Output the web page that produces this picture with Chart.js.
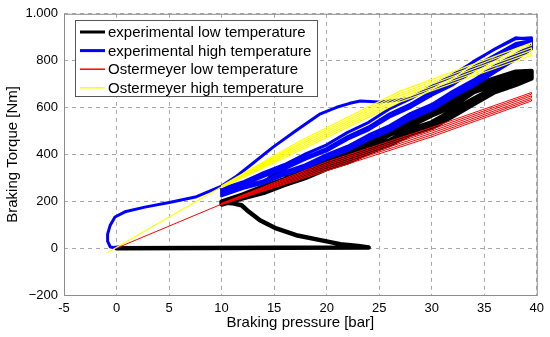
<!DOCTYPE html>
<html>
<head>
<meta charset="utf-8">
<script src="https://cdn.jsdelivr.net/npm/chart.js@4.4.1/dist/chart.umd.min.js"></script>
<style>
  html, body { margin: 0; padding: 0; background: #fff; }
  #wrap { width: 550px; height: 337px; }
</style>
</head>
<body>
<div id="wrap"><canvas id="grafico" width="550" height="337"></canvas></div>
<script>
const seriesLabels = [
  'experimental low temperature',
  'experimental high temperature',
  'Ostermeyer low temperature',
  'Ostermeyer high temperature'
];
const seriesColors = ['#000000', '#0000ff', '#ff0000', '#ffff00'];
const lineWidths = [4.5, 3, 1, 1.2];
const legendWidths = [3, 3, 1.5, 1.5];

const pressureTicks = [-5, 0, 5, 10, 15, 20, 25, 30, 35, 40];
const torqueTicks = [-200, 0, 200, 400, 600, 800, 1000];
const torqueTickLabels = ['\u2212200', '0', '200', '400', '600', '800', '1.000'];

// pressure grid used by the measured load cycles
const cyclePressure = [10, 12, 14, 16, 18, 20, 22, 24, 26, 28, 30, 32, 34, 36, 38, 39.5];

// experimental low temperature (black)
const expLowStartP = [0, 24, 23, 21.3, 19.4, 17.1, 15.2, 13.65, 12.6, 11.9, 11, 10.3];
const expLowStartT = [0, 3, 9, 17, 34, 55, 84, 119, 155, 183, 192, 195];
const expLowCycles = [
  [186, 212, 236, 270, 300, 338, 366, 407, 441, 485, 513, 563, 615, 666, 697, 724],
  [198, 228, 264, 294, 336, 373, 419, 457, 510, 551, 598, 637, 696, 724, 753, 756],
  [190, 218, 243, 279, 310, 350, 380, 424, 460, 507, 537, 587, 638, 685, 713, 735],
  [195, 223, 258, 287, 328, 363, 407, 443, 494, 533, 578, 617, 677, 708, 740, 747],
  [187, 214, 238, 274, 303, 342, 371, 413, 447, 492, 521, 571, 623, 672, 702, 728],
  [193, 220, 254, 283, 323, 357, 400, 435, 484, 522, 566, 605, 666, 698, 732, 742]
];
const expLowTailP = [12, 14, 14.6, 15.3, 15.9, 16.5];
const expLowTailT = [225, 262, 300, 328, 320, 300];

// experimental high temperature (blue)
const expHighStartP = [0.3, -0.3, -0.6, -0.85, -0.85, -0.6, -0.15, 0.8, 2.7, 5.25, 7.5, 10, 11.3, 12.5,
  14.9, 17.1, 19.4, 20.95, 22.2, 23.2, 25, 26.5, 28, 30, 32, 34, 36, 38, 39.5];
const expHighStartT = [6, 3, 5, 30, 60, 98, 133, 155, 175, 197, 218, 265, 303, 345,
  431, 502, 573, 601, 618, 628, 624, 630, 640, 688, 740, 795, 850, 898, 890];
const expHighCycles = [
  [253, 282, 322, 357, 402, 441, 494, 537, 595, 638, 691, 735, 797, 849, 894, 898],
  [223, 254, 278, 313, 342, 383, 417, 463, 501, 552, 590, 645, 693, 751, 806, 850],
  [246, 274, 312, 345, 388, 425, 476, 517, 573, 615, 667, 711, 773, 823, 873, 886],
  [231, 262, 288, 325, 356, 399, 435, 483, 523, 575, 613, 669, 718, 777, 827, 863],
  [241, 269, 306, 338, 380, 415, 465, 505, 560, 601, 653, 697, 758, 807, 860, 880],
  [226, 257, 282, 318, 348, 389, 424, 471, 510, 561, 600, 655, 703, 761, 814, 855]
];

// Ostermeyer low temperature (red)
const ostLowStartP = [0, 10];
const ostLowStartT = [0, 188];
const ostLowPressure = [10, 20, 30, 39.5];
const ostLowCycles = [
  [186, 330, 475, 628],
  [187, 337, 483, 635],
  [188, 345, 491, 642],
  [189, 353, 499, 650],
  [190, 360, 507, 657],
  [191, 368, 515, 664]
];

// Ostermeyer high temperature (yellow)
const ostHighStartP = [-0.8, 10];
const ostHighStartT = [-18, 262];
const ostHighPressure = [10, 17.5, 27, 39.5];
const ostHighCycles = [
  [258, 418, 624, 822],
  [260, 426, 633, 833],
  [261, 434, 642, 844],
  [263, 442, 651, 855],
  [264, 450, 660, 866],
  [266, 458, 670, 876]
];

function montarTraco(inicioP, inicioT, grade, ciclos, primeiroSobe, fimP, fimT) {
  const pontos = inicioP.map((p, i) => ({ x: p, y: inicioT[i] }));
  ciclos.forEach((ciclo, k) => {
    const sobe = (k % 2 === 0) === primeiroSobe;
    const idx = grade.map((_, i) => i);
    if (!sobe) idx.reverse();
    idx.forEach(i => pontos.push({ x: grade[i], y: ciclo[i] }));
  });
  if (fimP) fimP.forEach((p, i) => pontos.push({ x: p, y: fimT[i] }));
  return pontos;
}

const tracos = [
  montarTraco(expLowStartP, expLowStartT, cyclePressure, expLowCycles, true, expLowTailP, expLowTailT),
  montarTraco(expHighStartP, expHighStartT, cyclePressure, expHighCycles, false),
  montarTraco(ostLowStartP, ostLowStartT, ostLowPressure, ostLowCycles, true),
  montarTraco(ostHighStartP, ostHighStartT, ostHighPressure, ostHighCycles, true)
];

const caixaPlugin = {
  id: 'caixa',
  beforeDatasetsDraw(chart) {
    const { ctx, chartArea: a } = chart;
    ctx.save();
    ctx.setLineDash([]);
    ctx.strokeStyle = '#8c8c8c';
    ctx.lineWidth = 1;
    ctx.strokeRect(a.left + 0.5, a.top + 0.5, a.right - a.left, a.bottom - a.top);
    ctx.restore();
  }
};

const legendaPlugin = {
  id: 'legendaInterna',
  afterDatasetsDraw(chart) {
    const ctx = chart.ctx;
    const x0 = 75, y0 = 20, w = 242, h = 76;
    ctx.save();
    ctx.setLineDash([]);
    ctx.fillStyle = '#ffffff';
    ctx.fillRect(x0, y0, w, h);
    ctx.strokeStyle = '#555555';
    ctx.lineWidth = 1;
    ctx.strokeRect(x0 + 0.5, y0 + 0.5, w, h);
    ctx.font = "15px 'Liberation Sans', Arial, sans-serif";
    ctx.textBaseline = 'middle';
    ctx.fillStyle = '#000';
    seriesLabels.forEach((rotulo, i) => {
      const y = 32 + i * 18.6;
      ctx.beginPath();
      ctx.strokeStyle = seriesColors[i];
      ctx.lineWidth = legendWidths[i];
      ctx.moveTo(80, y);
      ctx.lineTo(105, y);
      ctx.stroke();
      ctx.fillText(rotulo, 108, y + 1);
    });
    ctx.restore();
  }
};

Chart.defaults.font.family = "'Liberation Sans', Arial, Helvetica, sans-serif";
Chart.defaults.color = '#000';

const ctx = document.getElementById('grafico').getContext('2d');
const grafico = new Chart(ctx, {
  type: 'scatter',
  data: {
    datasets: tracos.map((pts, i) => ({
      label: seriesLabels[i],
      data: pts,
      showLine: true,
      borderColor: seriesColors[i],
      backgroundColor: seriesColors[i],
      borderWidth: lineWidths[i],
      pointRadius: 0,
      tension: 0,
      fill: false,
      borderJoinStyle: 'round',
      borderCapStyle: 'round',
      order: 4 - i
    }))
  },
  options: {
    responsive: false,
    animation: false,
    devicePixelRatio: 1,
    layout: { padding: { left: 0, top: 13, right: 13, bottom: 0 } },
    plugins: {
      legend: { display: false },
      tooltip: { enabled: false }
    },
    scales: {
      x: {
        type: 'linear',
        min: -5,
        max: 40,
        afterBuildTicks: s => { s.ticks = pressureTicks.map(v => ({ value: v })); },
        afterFit: s => { s.height = 42; },
        ticks: { font: { size: 13 }, padding: 6, color: '#000', callback: v => String(v) },
        grid: { color: '#a8a8a8', drawTicks: false, lineWidth: 1 },
        border: { display: false, dash: [4, 4] },
        title: { display: true, text: 'Braking pressure [bar]', font: { size: 15 }, padding: { top: 0, bottom: 5 } }
      },
      y: {
        type: 'linear',
        min: -200,
        max: 1000,
        afterBuildTicks: s => { s.ticks = torqueTicks.map(v => ({ value: v })); },
        afterFit: s => { s.width = 64; },
        ticks: {
          font: { size: 13 },
          padding: 6,
          color: '#000',
          callback: v => torqueTickLabels[torqueTicks.indexOf(v)]
        },
        grid: { color: '#a8a8a8', drawTicks: false, lineWidth: 1 },
        border: { display: false, dash: [4, 4] },
        title: { display: true, text: 'Braking Torque [Nm]', font: { size: 15 }, padding: { top: 4, bottom: 4 } }
      }
    }
  },
  plugins: [caixaPlugin, legendaPlugin]
});
</script>
</body>
</html>
